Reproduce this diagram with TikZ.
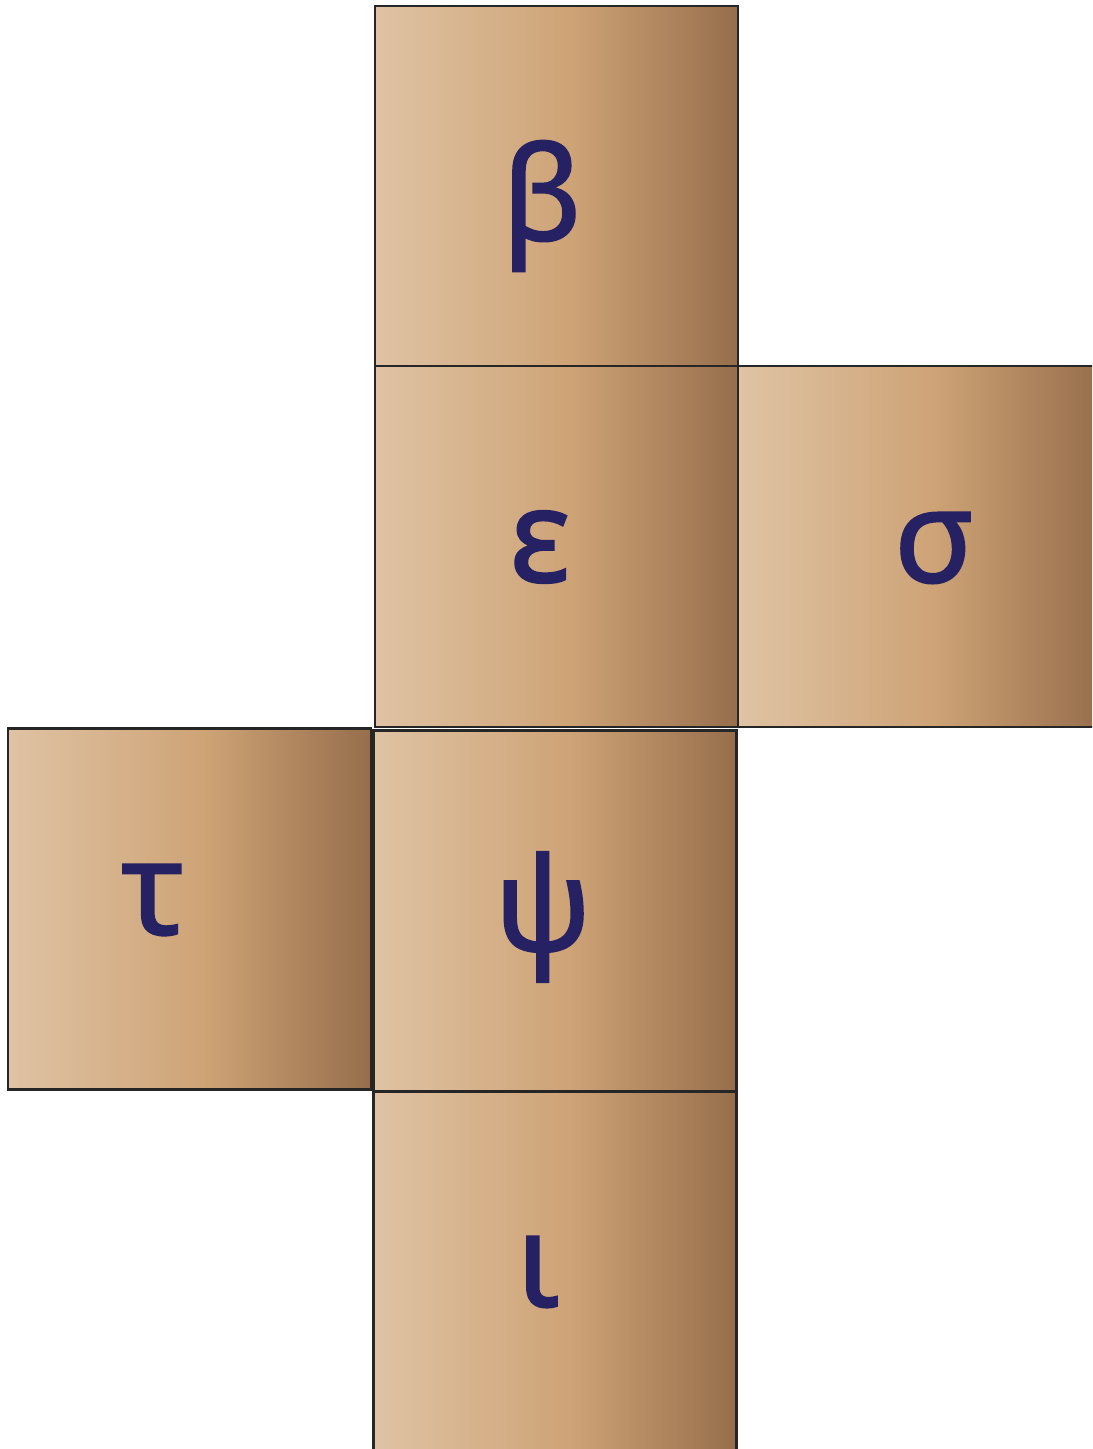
\documentclass[tikz,border=0pt]{standalone}
\usepackage{fontspec}
\newfontfamily\griego[FakeBold=1.6]{Noto Sans}
\usepackage{xcolor}
\definecolor{letra}{RGB}{38,33,98}
\definecolor{tanclaro}{RGB}{223,195,164}
\definecolor{tanmedio}{RGB}{206,163,118}
\definecolor{tanoscuro}{RGB}{150,110,75}
\pgfdeclarehorizontalshading{madera}{100bp}{color(0bp)=(tanclaro); color(25bp)=(tanclaro);
  color(52bp)=(tanmedio); color(75bp)=(tanoscuro); color(100bp)=(tanoscuro)}

\begin{document}
\begin{tikzpicture}[
      x=0.02cm, y=-0.02cm,
      cara/.style={draw=black!85, line width=1.4pt, shading=madera,
                   minimum width=7.26cm, minimum height=7.22cm, inner sep=0pt},
      letra/.style={text=letra, inner sep=0pt, font=\griego\fontsize{74}{80}\selectfont}
    ]
    \useasboundingbox (0,0) rectangle (1092,1449);
    \clip (0,0) rectangle (1092,1449);

    % caras del desarrollo
    \node[cara] (b)   at (556.5,186.5)  {};
    \node[cara] (e)   at (556.5,546.5)  {};
    \node[cara] (s)   at (919.5,546.5)  {};
    \node[cara] (t)   at (189.5,909)    {};
    \node[cara] (p)   at (555,911)      {};
    \node[cara] (i)   at (555,1272.5)   {};

    % letras
    \node[letra] (lb) at (542,206)  {β};
    \node[letra] (le) at (540,547)  {ε};
    \node[letra] (ls) at (934,548)  {σ};
    \node[letra] (lt) at (153,900)  {τ};
    \node[letra] (lp) at (543,917)  {ψ};
    \node[letra] (li) at (538,1272) {ι};
  \end{tikzpicture}
\end{document}
